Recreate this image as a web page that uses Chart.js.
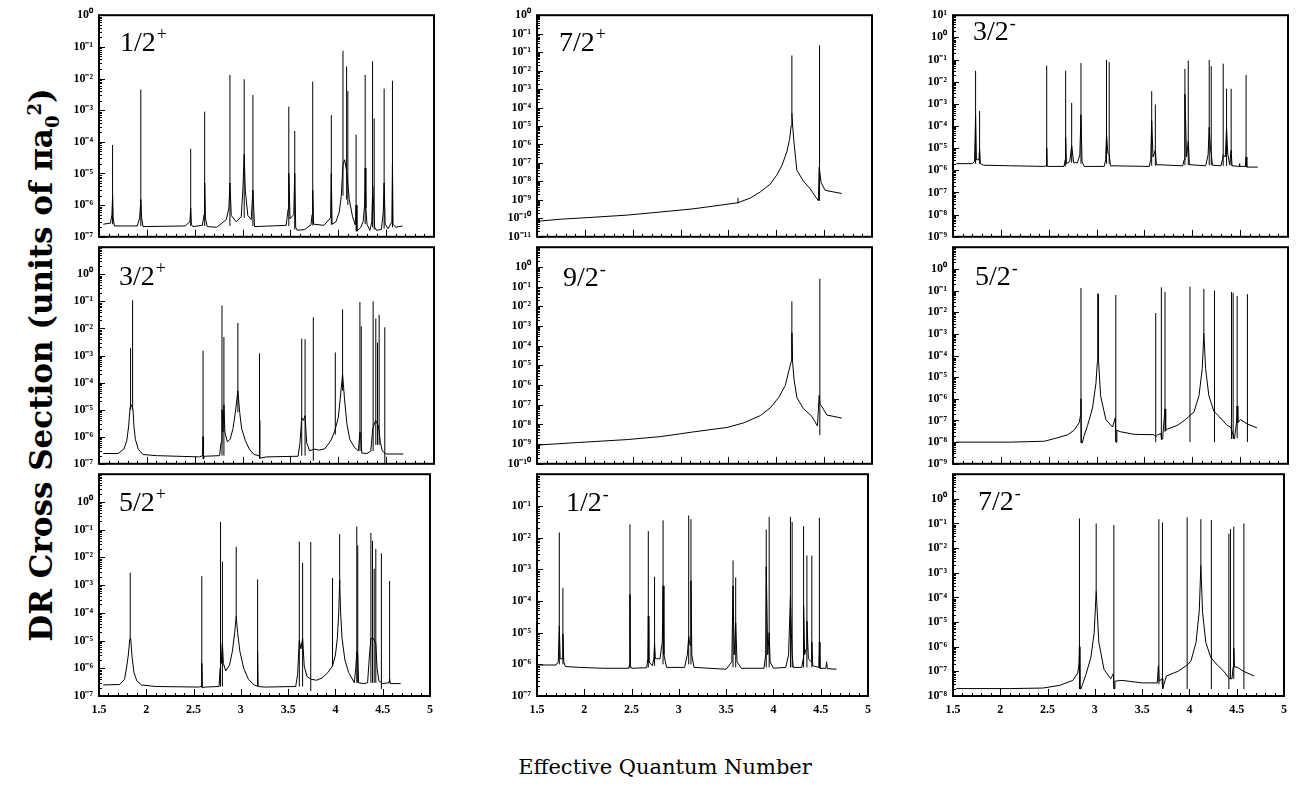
<!DOCTYPE html>
<html>
<head>
<meta charset="utf-8">
<script src="https://cdn.jsdelivr.net/npm/chart.js@4.4.1/dist/chart.umd.min.js"></script>
<style>
  html, body { margin: 0; padding: 0; background: #fff; }
  #fig { position: relative; width: 1299px; height: 800px; overflow: hidden; background: #fff; }
  #fig canvas { position: absolute; }
  .ytitle {
    position: absolute; left: -280px; top: 348px; width: 640px; height: 34px; line-height: 34px;
    text-align: center; white-space: nowrap; transform: rotate(-90deg); transform-origin: 50% 50%;
    font: bold 31px "DejaVu Serif", "Liberation Serif", serif; color: #000;
  }
  .ytitle sub, .ytitle sup { font-size: 18px; line-height: 0; }
  .xtitle {
    position: absolute; left: 415px; top: 755px; width: 500px; height: 30px; line-height: 30px;
    text-align: center; white-space: nowrap; font: 21px "DejaVu Serif", "Liberation Serif", serif; color: #000;
  }
</style>
</head>
<body>
<div id="fig">
  <div class="ytitle">DR Cross Section (units of &pi;a<sub>0</sub><sup>2</sup>)</div>
  <div class="xtitle">Effective Quantum Number</div>
</div>
<script>
// ---- x axis labels (effective quantum number) ----
const xTickLabels = ['1.5', '2', '2.5', '3', '3.5', '4', '4.5', '5'];

// ---- y tick labels, listed top to bottom ----
const yLab_j12p = ['10⁰', '10⁻¹', '10⁻²', '10⁻³', '10⁻⁴', '10⁻⁵', '10⁻⁶', '10⁻⁷'];
const yLab_j32p = ['', '10⁰', '10⁻¹', '10⁻²', '10⁻³', '10⁻⁴', '10⁻⁵', '10⁻⁶', '10⁻⁷'];
const yLab_j52p = ['', '10⁰', '10⁻¹', '10⁻²', '10⁻³', '10⁻⁴', '10⁻⁵', '10⁻⁶', '10⁻⁷'];
const yLab_j72p = ['10⁰', '10⁻¹', '10⁻¹', '10⁻²', '10⁻³', '10⁻⁴', '10⁻⁵', '10⁻⁶', '10⁻⁷', '10⁻⁸', '10⁻⁹', '10⁻¹⁰', '10⁻¹¹'];
const yLab_j92m = ['', '10⁰', '10⁻¹', '10⁻²', '10⁻³', '10⁻⁴', '10⁻⁵', '10⁻⁶', '10⁻⁷', '10⁻⁸', '10⁻⁹', '10⁻¹⁰'];
const yLab_j12m = ['', '10⁻¹', '10⁻²', '10⁻³', '10⁻⁴', '10⁻⁵', '10⁻⁶', '10⁻⁷'];
const yLab_j32m = ['10¹', '10⁰', '10⁻¹', '10⁻²', '10⁻³', '10⁻⁴', '10⁻⁵', '10⁻⁶', '10⁻⁷', '10⁻⁸', '10⁻⁹'];
const yLab_j52m = ['', '10⁰', '10⁻¹', '10⁻²', '10⁻³', '10⁻⁴', '10⁻⁵', '10⁻⁶', '10⁻⁷', '10⁻⁸', '10⁻⁹'];
const yLab_j72m = ['', '10⁰', '10⁻¹', '10⁻²', '10⁻³', '10⁻⁴', '10⁻⁵', '10⁻⁶', '10⁻⁷', '10⁻⁸'];

// ---- 1/2+ ----
const j12p_bgNu = [1.545, 1.62, 1.635, 1.642, 1.648, 1.66, 1.90, 1.925, 1.937, 1.945,
  1.96, 2.40, 2.45, 2.458, 2.465, 2.48, 2.58, 2.598, 2.604, 2.612,
  2.63, 2.73, 2.83, 2.857, 2.868, 2.882, 2.934, 2.986, 3.003, 3.017,
  3.028, 3.055, 3.09, 3.108, 3.125, 3.455, 3.476, 3.483, 3.496, 3.535,
  3.545, 3.555, 3.57, 3.65, 3.715, 3.726, 3.733, 3.742, 3.85, 3.92,
  3.927, 3.935, 3.976, 4.01, 4.031, 4.049, 4.066, 4.087, 4.115, 4.149,
  4.177, 4.186, 4.195, 4.236, 4.26, 4.275, 4.281, 4.288, 4.30, 4.33,
  4.35, 4.36, 4.37, 4.38, 4.40, 4.45, 4.47, 4.479, 4.49, 4.52,
  4.56, 4.566, 4.572, 4.60, 4.67];
const j12p_bgSig = [2.5e-7, 2.7e-7, 5e-7, 2e-6, 4e-7, 2.2e-7, 2.2e-7, 4e-7, 1.5e-6, 4e-7,
  2.1e-7, 2.2e-7, 3e-7, 8e-7, 2.5e-7, 2.1e-7, 2.3e-7, 5e-7, 5e-6, 4e-7,
  2.1e-7, 2e-7, 3.5e-7, 8e-7, 5e-6, 4.7e-7, 3e-7, 4.3e-7, 3e-6, 4e-5,
  3e-6, 4.7e-7, 3.5e-7, 3e-6, 2.1e-7, 2.3e-7, 7.5e-7, 1e-5, 3.7e-7, 5e-7,
  1e-5, 2e-7, 1.6e-7, 1.7e-7, 2.4e-7, 5e-7, 3e-6, 2.5e-7, 2.3e-7, 4e-7,
  1e-5, 2.5e-7, 3e-7, 6e-7, 1.9e-6, 1.9e-5, 2.7e-5, 1.2e-5, 1.5e-6, 4.3e-7,
  2.4e-7, 1e-6, 1.5e-7, 2e-7, 3e-7, 1e-6, 1.5e-5, 8e-7, 2.5e-7, 1.6e-7,
  3e-7, 4e-6, 1e-6, 2e-7, 1.6e-7, 1.7e-7, 6e-7, 5e-6, 2.5e-7, 1.8e-7,
  3e-7, 2e-5, 2.5e-7, 2e-7, 2.2e-7];
const j12p_pkNu = [1.642, 1.937, 2.458, 2.604, 2.868, 3.017, 3.108, 3.483, 3.545, 3.733,
  3.927, 4.049, 4.087, 4.10, 4.186, 4.281, 4.358, 4.375, 4.479, 4.566];
const j12p_pkTop = [8e-5, 4.5e-3, 6e-5, 9e-4, 1.3e-2, 9.5e-3, 3e-3, 1.3e-3, 2.2e-4, 8e-3,
  7e-4, 7.5e-2, 2.4e-2, 4e-3, 1.7e-4, 1.3e-2, 3.5e-2, 5.5e-4, 4.8e-3, 8.5e-3];
const j12p_pkFoot = [2.5e-7, 2.2e-7, 2.2e-7, 2.2e-7, 2.2e-7, 4e-7, 2.2e-7, 2.2e-7, 1.7e-7, 2.3e-7,
  2.4e-7, 2e-6, 1.5e-6, 1e-6, 1.5e-7, 2.5e-7, 2e-7, 1.7e-7, 1.8e-7, 2e-7];

// ---- 3/2+ ----
const j32p_bgNu = [1.545, 1.70, 1.76, 1.79, 1.81, 1.825, 1.84, 1.855, 1.865, 1.88,
  1.91, 1.96, 2.10, 2.55, 2.582, 2.587, 2.592, 2.60, 2.76, 2.775,
  2.785, 2.795, 2.805, 2.815, 2.84, 2.87, 2.90, 2.925, 2.951, 2.97,
  2.99, 3.03, 3.07, 3.12, 3.172, 3.177, 3.182, 3.25, 3.58, 3.60,
  3.618, 3.635, 3.653, 3.67, 3.70, 3.745, 3.80, 3.86, 3.92, 3.96,
  4.00, 4.02, 4.045, 4.065, 4.09, 4.12, 4.17, 4.21, 4.226, 4.235,
  4.245, 4.30, 4.34, 4.36, 4.39, 4.42, 4.44, 4.46, 4.50, 4.55,
  4.68];
const j32p_bgSig = [2.4e-7, 2.4e-7, 3.5e-7, 7e-7, 2.5e-6, 1.2e-5, 1.5e-5, 1e-5, 2.5e-6, 8e-7,
  3.5e-7, 2.2e-7, 2e-7, 1.8e-7, 2e-7, 1e-6, 1.5e-7, 1.9e-7, 2e-7, 6e-7,
  1e-5, 1.5e-6, 1.5e-5, 1.5e-6, 6.5e-7, 8e-7, 2e-6, 8e-6, 5e-5, 8e-6,
  2e-6, 7e-7, 3.5e-7, 2.2e-7, 2e-7, 4e-6, 1.6e-7, 1.8e-7, 1.9e-7, 6e-7,
  5e-6, 4e-6, 6e-6, 6e-7, 3e-7, 3.5e-7, 3.2e-7, 3.6e-7, 7e-7, 1.5e-6,
  5e-6, 2.5e-5, 2e-4, 2.5e-5, 3e-6, 8e-7, 4e-7, 3e-7, 1.5e-6, 1e-6,
  2.5e-7, 2.4e-7, 3e-7, 2e-6, 4e-6, 2.5e-6, 6e-7, 3e-7, 2.3e-7, 2.3e-7,
  2.3e-7];
const j32p_pkNu = [1.83, 1.851, 2.587, 2.785, 2.805, 2.951, 3.177, 3.618, 3.653, 3.739,
  3.969, 4.045, 4.226, 4.24, 4.364, 4.392, 4.41, 4.427, 4.486];
const j32p_pkTop = [1.9e-3, 0.11, 1.5e-3, 7e-2, 4.8e-3, 1.6e-2, 1.2e-3, 4.2e-3, 4e-3, 2.6e-2,
  1.3e-3, 5e-2, 9.5e-2, 1.2e-2, 0.1, 2.3e-2, 3e-3, 3.2e-2, 1.1e-2];
const j32p_pkFoot = [1e-5, 1e-5, 1.5e-7, 2e-7, 2e-7, 8e-6, 1.6e-7, 2e-7, 2e-7, 1.3e-7,
  1.2e-6, 5e-5, 3e-7, 3e-7, 3e-7, 5e-7, 5e-7, 5e-7, 1.05e-7];

// ---- 5/2+ ----
const j52p_bgNu = [1.545, 1.72, 1.77, 1.79, 1.81, 1.825, 1.835, 1.85, 1.87, 1.90,
  1.95, 2.10, 2.55, 2.582, 2.587, 2.592, 2.62, 2.77, 2.78, 2.785,
  2.795, 2.805, 2.815, 2.84, 2.88, 2.91, 2.935, 2.951, 2.965, 2.99,
  3.03, 3.08, 3.14, 3.172, 3.177, 3.182, 3.25, 3.58, 3.60, 3.618,
  3.635, 3.653, 3.67, 3.70, 3.745, 3.80, 3.86, 3.92, 3.969, 4.00,
  4.02, 4.035, 4.045, 4.055, 4.07, 4.10, 4.14, 4.20, 4.215, 4.226,
  4.236, 4.245, 4.30, 4.34, 4.36, 4.375, 4.40, 4.427, 4.44, 4.46,
  4.50, 4.565, 4.573, 4.58, 4.69];
const j52p_bgSig = [2.5e-7, 2.6e-7, 4e-7, 1e-6, 3e-6, 1.1e-5, 1.2e-5, 2.5e-6, 7e-7, 3.5e-7,
  2.5e-7, 2.2e-7, 2.1e-7, 2.2e-7, 1.5e-6, 2e-7, 2.1e-7, 2.2e-7, 1e-6, 8e-6,
  1.5e-6, 8e-6, 1.5e-6, 8e-7, 1.3e-6, 4e-6, 2e-5, 7.5e-5, 2e-5, 4e-6,
  1e-6, 4e-7, 2.5e-7, 2.3e-7, 4e-6, 2.2e-7, 2.1e-7, 2.2e-7, 6e-7, 1e-5,
  5e-6, 1.2e-5, 1.2e-6, 5e-7, 4e-7, 3.7e-7, 4.5e-7, 7e-7, 1.2e-6, 3e-6,
  1.2e-5, 1e-4, 1.5e-3, 1e-4, 1.2e-5, 2e-6, 7e-7, 3e-7, 1e-6, 4e-6,
  3e-6, 3e-7, 2.8e-7, 3e-7, 3e-6, 1.2e-5, 1.2e-5, 8e-6, 1e-6, 3.5e-7,
  2.8e-7, 3e-7, 4e-7, 2.8e-7, 2.8e-7];
const j52p_pkNu = [1.83, 2.587, 2.785, 2.805, 2.951, 3.177, 3.618, 3.653, 3.739, 3.969,
  4.045, 4.226, 4.236, 4.375, 4.392, 4.41, 4.427, 4.486, 4.573];
const j52p_pkTop = [2.8e-3, 2.1e-3, 0.19, 7e-3, 2.4e-2, 1.6e-3, 3.7e-2, 6.5e-3, 3.6e-2, 1.8e-3,
  6.9e-2, 0.13, 2.7e-2, 7.6e-2, 4e-2, 3.9e-3, 2e-2, 1.4e-2, 1.4e-3];
const j52p_pkFoot = [1.1e-5, 2e-7, 2.2e-7, 2.2e-7, 7e-5, 2.2e-7, 2.2e-7, 2.2e-7, 1.5e-7, 1.2e-6,
  1e-3, 3e-7, 3e-7, 3e-7, 3e-7, 3e-7, 3e-7, 1.8e-7, 3e-7];

// ---- 7/2+ ----
const j72p_bgNu = [1.514, 1.75, 2.097, 2.444, 2.79, 3.139, 3.486, 3.60, 3.729, 3.833,
  3.937, 4.007, 4.059, 4.111, 4.139, 4.155, 4.163, 4.171, 4.185, 4.215,
  4.285, 4.354, 4.417, 4.44, 4.448, 4.455, 4.468, 4.51, 4.684];
const j72p_bgSig = [7e-11, 9e-11, 1.15e-10, 1.5e-10, 2.2e-10, 3.3e-10, 5.8e-10, 7e-10, 1.26e-9, 2.7e-9,
  7.2e-9, 2.3e-8, 7.3e-8, 4.1e-7, 1.9e-6, 1e-5, 5e-5, 1e-5, 1.3e-6, 4e-8,
  1e-8, 4e-9, 1.3e-9, 9e-10, 6e-8, 6e-8, 8.7e-9, 3.3e-9, 2.2e-9];
const j72p_pkNu = [3.60, 4.163, 4.452];
const j72p_pkTop = [1.3e-9, 6.6e-2, 0.23];
const j72p_pkFoot = [6.5e-10, 5e-5, 9e-10];

// ---- 9/2- ----
const j92m_bgNu = [1.514, 1.924, 2.444, 2.79, 3.139, 3.486, 3.66, 3.833, 3.937, 4.024,
  4.094, 4.128, 4.156, 4.163, 4.17, 4.185, 4.215, 4.285, 4.371, 4.43,
  4.448, 4.458, 4.476, 4.528, 4.684];
const j92m_bgSig = [9e-10, 1.2e-9, 1.7e-9, 2.4e-9, 4.2e-9, 7e-9, 1.2e-8, 2.8e-8, 6.9e-8, 2.3e-7,
  9.5e-7, 4.6e-6, 1.6e-5, 4.5e-4, 1.6e-5, 2e-6, 2.3e-7, 6.2e-8, 2.6e-8, 8.3e-9,
  3e-7, 1e-7, 8.2e-8, 3e-8, 2.1e-8];
const j92m_pkNu = [4.163, 4.455];
const j92m_pkTop = [1.8e-2, 0.25];
const j92m_pkFoot = [1.6e-5, 2.9e-9];

// ---- 1/2- ----
const j12m_bgNu = [1.514, 1.70, 1.725, 1.736, 1.745, 1.765, 1.774, 1.783, 1.80, 1.95,
  2.20, 2.47, 2.48, 2.483, 2.487, 2.50, 2.66, 2.672, 2.677, 2.683,
  2.72, 2.735, 2.743, 2.752, 2.80, 2.825, 2.833, 2.842, 2.87, 3.06,
  3.09, 3.104, 3.118, 3.128, 3.137, 3.16, 3.50, 3.56, 3.573, 3.585,
  3.601, 3.615, 3.66, 3.90, 3.918, 3.924, 3.94, 3.955, 3.965, 4.00,
  4.13, 4.16, 4.18, 4.19, 4.198, 4.21, 4.30, 4.315, 4.319, 4.33,
  4.345, 4.354, 4.37, 4.40, 4.406, 4.415, 4.48, 4.486, 4.492, 4.555,
  4.562, 4.57, 4.667];
const j12m_bgSig = [9.5e-7, 9.5e-7, 1.2e-6, 1.6e-5, 1.5e-6, 1.5e-6, 9e-6, 1.2e-6, 8.5e-7, 8e-7,
  7.5e-7, 7.5e-7, 1e-6, 1.6e-4, 9e-7, 7.5e-7, 7.8e-7, 1.5e-6, 3.3e-5, 1.2e-6,
  9e-7, 1.5e-6, 4.6e-6, 1.5e-6, 1.5e-6, 5e-6, 3e-4, 2e-6, 8e-7, 8e-7,
  2e-6, 7.5e-6, 4e-6, 4.3e-4, 2e-6, 8e-7, 7e-7, 1.2e-6, 3e-4, 2e-6,
  2e-5, 1.2e-6, 7.5e-7, 7.5e-7, 2e-6, 1.2e-3, 2e-6, 1e-5, 1.2e-6, 7.5e-7,
  8e-7, 2e-6, 1.4e-4, 1e-5, 2e-6, 8e-7, 8e-7, 1.5e-6, 7e-5, 2e-6,
  3e-6, 2.3e-5, 1.5e-6, 1.2e-6, 5e-6, 9e-7, 8e-7, 5e-6, 7.5e-7, 7.5e-7,
  1.2e-6, 7.3e-7, 7e-7];
const j12m_pkNu = [1.736, 1.774, 2.483, 2.677, 2.743, 2.833, 3.104, 3.128, 3.573, 3.601,
  3.924, 3.955, 4.18, 4.198, 4.319, 4.354, 4.406, 4.486];
const j12m_pkTop = [1.45e-2, 2.6e-4, 2.6e-2, 1.6e-2, 5.8e-4, 3.5e-2, 5e-2, 3.8e-2, 1.9e-3, 5.5e-4,
  1.8e-2, 4.5e-2, 4.5e-2, 3.1e-2, 2.3e-2, 2.7e-3, 2.7e-3, 4.2e-2];
const j12m_pkFoot = [1e-6, 1e-6, 7.5e-7, 8e-7, 9e-7, 1e-6, 1e-6, 1e-6, 8e-7, 8e-7,
  8e-7, 8e-7, 8e-7, 8e-7, 8e-7, 8e-7, 8e-7, 8e-7];

// ---- 3/2- ----
const j32m_bgNu = [1.535, 1.70, 1.725, 1.736, 1.745, 1.77, 1.778, 1.786, 1.82, 2.10,
  2.45, 2.474, 2.479, 2.484, 2.66, 2.672, 2.677, 2.685, 2.72, 2.74,
  2.76, 2.80, 2.825, 2.837, 2.848, 2.87, 3.08, 3.095, 3.104, 3.118,
  3.132, 3.145, 3.55, 3.566, 3.576, 3.59, 3.614, 3.625, 3.90, 3.915,
  3.923, 3.94, 3.958, 3.97, 4.14, 4.165, 4.177, 4.19, 4.198, 4.21,
  4.30, 4.315, 4.323, 4.345, 4.358, 4.37, 4.39, 4.406, 4.415, 4.49,
  4.493, 4.497, 4.555, 4.562, 4.57, 4.684];
const j32m_bgSig = [2e-6, 2e-6, 2.5e-6, 2.8e-4, 3e-6, 3e-6, 9e-6, 2e-6, 1.7e-6, 1.6e-6,
  1.5e-6, 1.6e-6, 1e-5, 1.5e-6, 1.5e-6, 3e-6, 3e-5, 2e-6, 2.5e-6, 1.3e-5,
  2.2e-6, 2.2e-6, 5e-6, 3.2e-4, 2.5e-6, 1.5e-6, 1.5e-6, 3e-6, 4e-5, 6e-6,
  5e-6, 1.6e-6, 1.5e-6, 3e-6, 1.7e-4, 4e-6, 8e-6, 1.8e-6, 1.6e-6, 3e-6,
  2.7e-3, 4e-6, 2e-5, 1.8e-6, 1.6e-6, 5e-6, 8.8e-5, 8e-6, 6e-6, 1.7e-6,
  1.6e-6, 3e-6, 5e-6, 4e-6, 8e-5, 6e-6, 1.8e-6, 8e-6, 1.6e-6, 1.5e-6,
  2e-6, 1.5e-6, 1.5e-6, 4e-6, 1.4e-6, 1.4e-6];
const j32m_pkNu = [1.736, 1.778, 2.479, 2.677, 2.74, 2.837, 3.104, 3.132, 3.576, 3.614,
  3.923, 3.958, 4.177, 4.198, 4.323, 4.358, 4.406, 4.562];
const j32m_pkTop = [3.1e-2, 4.8e-4, 5.3e-2, 3.1e-2, 1.1e-3, 6.9e-2, 9.6e-2, 7.6e-2, 3.7e-3, 9.4e-4,
  3.8e-2, 9e-2, 9.6e-2, 5e-2, 6.5e-2, 4.8e-3, 4.8e-3, 2e-2];
const j32m_pkFoot = [2e-6, 2e-6, 1.5e-6, 1.5e-6, 2.2e-6, 2e-6, 2e-6, 2e-6, 1.6e-6, 1.6e-6,
  1.7e-6, 1.7e-6, 1.7e-6, 1.7e-6, 1.6e-6, 1.6e-6, 1.6e-6, 1.4e-6];

// ---- 5/2- ----
const j52m_bgNu = [1.535, 2.10, 2.455, 2.594, 2.698, 2.767, 2.819, 2.832, 2.837, 2.842,
  2.85, 2.87, 2.906, 2.958, 2.993, 3.008, 3.022, 3.042, 3.097, 3.167,
  3.195, 3.203, 3.212, 3.253, 3.39, 3.60, 3.618, 3.64, 3.672, 3.68,
  3.69, 3.708, 3.715, 3.722, 3.74, 3.843, 3.93, 3.97, 3.98, 4.017,
  4.07, 4.104, 4.121, 4.139, 4.173, 4.225, 4.295, 4.364, 4.40, 4.44,
  4.462, 4.469, 4.476, 4.503, 4.573, 4.677];
const j52m_bgSig = [1e-8, 1e-8, 1.1e-8, 1.6e-8, 2.2e-8, 3.6e-8, 8e-8, 1.7e-7, 1e-6, 1e-8,
  9e-9, 2e-8, 5.9e-8, 3.8e-7, 5e-6, 4.7e-5, 4.7e-5, 1.4e-6, 1.1e-7, 5e-8,
  1.3e-7, 1e-8, 3.5e-8, 3e-8, 2.3e-8, 2.2e-8, 1.8e-8, 2.2e-8, 2.5e-8, 1.3e-8,
  1.4e-8, 1.5e-7, 3.4e-7, 3.5e-8, 4e-8, 5.9e-8, 1.1e-7, 1.6e-7, 1.8e-7, 2.4e-7,
  1.4e-6, 2.5e-5, 1.1e-3, 2.5e-5, 1.4e-6, 2.7e-7, 1.3e-7, 5.9e-8, 5e-8, 1.4e-8,
  8e-8, 4.6e-7, 8e-8, 1.1e-7, 7e-8, 4.5e-8];
const j52m_pkNu = [2.837, 3.012, 3.02, 3.201, 3.618, 3.677, 3.715, 3.976, 4.121, 4.232,
  4.41, 4.427, 4.469, 4.576];
const j52m_pkTop = [0.13, 7.3e-2, 7e-2, 6.2e-2, 9.1e-3, 0.14, 8.5e-2, 0.15, 0.12, 0.1,
  8.5e-2, 7.8e-2, 5.6e-2, 6.8e-2];
const j52m_pkFoot = [9e-9, 4.7e-5, 4.7e-5, 1e-8, 1e-8, 1.3e-8, 3e-8, 1e-8, 1.1e-3, 1e-8,
  1.4e-8, 1.4e-8, 1.5e-8, 1e-8];

// ---- 7/2- ----
const j72m_bgNu = [1.535, 2.10, 2.45, 2.628, 2.767, 2.819, 2.832, 2.837, 2.842, 2.852,
  2.87, 2.906, 2.958, 2.993, 3.014, 3.042, 3.097, 3.167, 3.195, 3.203,
  3.212, 3.288, 3.496, 3.66, 3.672, 3.68, 3.71, 3.718, 3.757, 3.878,
  3.965, 3.99, 4.017, 4.07, 4.104, 4.121, 4.139, 4.173, 4.225, 4.295,
  4.364, 4.40, 4.425, 4.45, 4.462, 4.469, 4.476, 4.503, 4.573, 4.684];
const j72m_bgSig = [2e-8, 2e-8, 2.1e-8, 2.7e-8, 4.3e-8, 8.5e-8, 2e-7, 1e-6, 2e-8, 1.9e-8,
  3e-8, 7.5e-8, 3.7e-7, 3.7e-6, 1.8e-4, 1.5e-6, 1.2e-7, 5e-8, 8e-8, 2e-8,
  4e-8, 4.3e-8, 3.4e-8, 3.4e-8, 1.7e-7, 4e-8, 5e-8, 2e-8, 6.5e-8, 1e-7,
  1.7e-7, 2e-7, 2.7e-7, 1.5e-6, 2.8e-5, 2e-3, 2.5e-5, 1.5e-6, 3.7e-7, 1.8e-7,
  1e-7, 6.5e-8, 5e-8, 5e-8, 1.5e-7, 8.7e-7, 1.5e-7, 1.5e-7, 1e-7, 6.5e-8];
const j72m_pkNu = [2.837, 3.014, 3.201, 3.677, 3.715, 3.976, 4.121, 4.232, 4.417, 4.434,
  4.469, 4.576];
const j72m_pkTop = [0.16, 0.1, 8.7e-2, 0.15, 0.11, 0.18, 0.15, 0.14, 3.9e-2, 6e-2,
  7.5e-2, 0.1];
const j72m_pkFoot = [1.9e-8, 1.8e-4, 1.9e-8, 3e-8, 2.5e-8, 1.9e-8, 2e-3, 1.9e-8, 1.9e-8, 5e-8,
  5e-8, 1.9e-8];

// ---- panel layout ----
const colLeft = [99, 537, 953];
const rowTop = [10, 242, 469];
const rowBottom = [242, 469, 696];
const plotW = 335;
const axisW = 60;

const panels = [
  { col: 0, row: 0, lo: -7,  hi: 0, name: '1/2', sign: '+', dx: 21, dy: 36, labels: yLab_j12p,
    bg: [j12p_bgNu, j12p_bgSig], pk: [j12p_pkNu, j12p_pkTop, j12p_pkFoot] },
  { col: 0, row: 1, lo: -7,  hi: 1, name: '3/2', sign: '+', dx: 20, dy: 38, labels: yLab_j32p,
    bg: [j32p_bgNu, j32p_bgSig], pk: [j32p_pkNu, j32p_pkTop, j32p_pkFoot] },
  { col: 0, row: 2, lo: -7,  hi: 1, name: '5/2', sign: '+', dx: 20, dy: 37, labels: yLab_j52p,
    bg: [j52p_bgNu, j52p_bgSig], pk: [j52p_pkNu, j52p_pkTop, j52p_pkFoot] },
  { col: 1, row: 0, lo: -11, hi: 1, name: '7/2', sign: '+', dx: 22, dy: 36, labels: yLab_j72p,
    bg: [j72p_bgNu, j72p_bgSig], pk: [j72p_pkNu, j72p_pkTop, j72p_pkFoot] },
  { col: 1, row: 1, lo: -10, hi: 1, name: '9/2', sign: '-', dx: 26, dy: 39, labels: yLab_j92m,
    bg: [j92m_bgNu, j92m_bgSig], pk: [j92m_pkNu, j92m_pkTop, j92m_pkFoot] },
  { col: 1, row: 2, lo: -7,  hi: 0, name: '1/2', sign: '-', dx: 29, dy: 37, labels: yLab_j12m,
    bg: [j12m_bgNu, j12m_bgSig], pk: [j12m_pkNu, j12m_pkTop, j12m_pkFoot] },
  { col: 2, row: 0, lo: -9,  hi: 1, name: '3/2', sign: '-', dx: 20, dy: 25, labels: yLab_j32m,
    bg: [j32m_bgNu, j32m_bgSig], pk: [j32m_pkNu, j32m_pkTop, j32m_pkFoot] },
  { col: 2, row: 1, lo: -9,  hi: 1, name: '5/2', sign: '-', dx: 22, dy: 38, labels: yLab_j52m,
    bg: [j52m_bgNu, j52m_bgSig], pk: [j52m_pkNu, j52m_pkTop, j52m_pkFoot] },
  { col: 2, row: 2, lo: -8,  hi: 1, name: '7/2', sign: '-', dx: 25, dy: 36, labels: yLab_j72m,
    bg: [j72m_bgNu, j72m_bgSig], pk: [j72m_pkNu, j72m_pkTop, j72m_pkFoot] },
];

function curve(nu, sig) {
  return nu.map((v, i) => ({ x: v, y: sig[i] }));
}

// each resonance is its own vertical stroke; null breaks the line between them
function spikes(nu, top, foot) {
  const pts = [];
  nu.forEach((v, i) => {
    pts.push({ x: v, y: foot[i] }, { x: v, y: top[i] }, { x: v, y: null });
  });
  return pts;
}

// frame, inward ticks and the J-pi label of each panel
const panelDecor = {
  id: 'panelDecor',
  afterDatasetsDraw(chart, args, opts) {
    const { ctx, chartArea: a } = chart;
    const xs = chart.scales.x, ys = chart.scales.y;
    ctx.save();
    ctx.strokeStyle = '#000';
    ctx.lineWidth = 1;
    ctx.beginPath();
    for (let i = 15; i <= 50; i++) {
      const px = Math.round(xs.getPixelForValue(i / 10)) + 0.5;
      const len = i % 5 === 0 ? 7 : 3;
      ctx.moveTo(px, a.bottom);
      ctx.lineTo(px, a.bottom - len);
    }
    for (let e = opts.lo; e < opts.hi; e++) {
      for (let k = 1; k <= 9; k++) {
        const py = Math.round(ys.getPixelForValue(k * Math.pow(10, e))) + 0.5;
        const len = k === 1 ? 6 : 3;
        ctx.moveTo(a.left, py);
        ctx.lineTo(a.left + len, py);
      }
    }
    ctx.stroke();
    ctx.lineWidth = 2;
    ctx.strokeRect(a.left, a.top, a.right - a.left, a.bottom - a.top);

    ctx.fillStyle = '#000';
    ctx.textBaseline = 'alphabetic';
    ctx.font = '28px "Liberation Serif"';
    const x0 = a.left + opts.dx, y0 = a.top + opts.dy;
    ctx.fillText(opts.name, x0, y0);
    const w = ctx.measureText(opts.name).width;
    ctx.font = '18px "Liberation Serif"';
    ctx.fillText(opts.sign, x0 + w + 1, y0 - 11);
    ctx.restore();
  }
};

const fig = document.getElementById('fig');
const tickFont = { family: 'Liberation Serif', weight: 'bold', size: 12 };

panels.forEach(p => {
  const L = colLeft[p.col], T = rowTop[p.row], H = rowBottom[p.row] - T;
  const last = p.row === 2;
  const w = axisW + plotW + 6;
  const h = 8 + H + (last ? 30 : 8);
  const cv = document.createElement('canvas');
  cv.width = w;
  cv.height = h;
  cv.style.left = (L - axisW) + 'px';
  cv.style.top = (T - 8) + 'px';
  cv.style.width = w + 'px';
  cv.style.height = h + 'px';
  fig.appendChild(cv);

  const decades = [];
  for (let e = p.lo; e <= p.hi; e++) decades.push(Math.pow(10, e));

  new Chart(cv, {
    type: 'line',
    data: {
      datasets: [
        { data: curve(p.bg[0], p.bg[1]), borderColor: '#000', borderWidth: 1, pointRadius: 0, tension: 0 },
        { data: spikes(p.pk[0], p.pk[1], p.pk[2]), borderColor: '#000', borderWidth: 1, pointRadius: 0,
          tension: 0, spanGaps: false }
      ]
    },
    options: {
      responsive: false,
      animation: false,
      events: [],
      layout: { padding: { top: 8, right: 6, bottom: last ? 6 : 8, left: 0 } },
      plugins: {
        legend: { display: false },
        tooltip: { enabled: false },
        panelDecor: { lo: p.lo, hi: p.hi, name: p.name, sign: p.sign, dx: p.dx, dy: p.dy }
      },
      scales: {
        x: {
          type: 'linear', min: 1.5, max: 5, display: last,
          grid: { display: false, drawTicks: false }, border: { display: false },
          ticks: { stepSize: 0.5, autoSkip: false, maxRotation: 0, padding: 7, color: '#000', font: tickFont,
                   callback: (v, i) => xTickLabels[i] },
          afterFit: s => { s.height = last ? 24 : 0; }
        },
        y: {
          type: 'logarithmic', min: decades[0], max: decades[decades.length - 1],
          grid: { display: false, drawTicks: false }, border: { display: false },
          ticks: { autoSkip: false, padding: 6, color: '#000', font: tickFont,
                   callback: (v, i, t) => p.labels[t.length - 1 - i] },
          afterBuildTicks: s => { s.ticks = decades.map(v => ({ value: v })); },
          afterFit: s => { s.width = axisW; }
        }
      }
    },
    plugins: [panelDecor]
  });
});
</script>
</body>
</html>
